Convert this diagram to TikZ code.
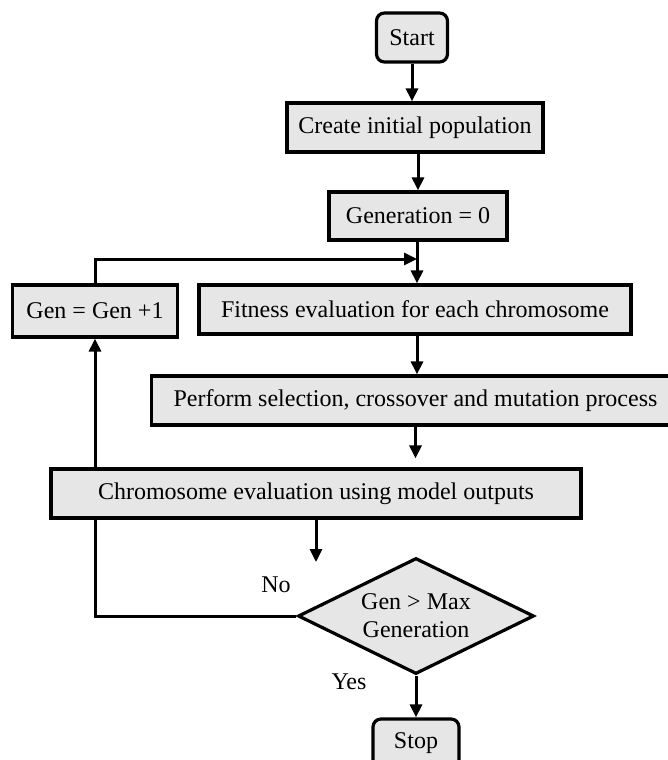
\documentclass[tikz,border=0pt]{standalone}
\usepackage{fontspec}
\setmainfont{Liberation Serif}
\usetikzlibrary{shapes.geometric,arrows.meta,backgrounds}
\definecolor{boxgray}{HTML}{E6E6E6}
\begin{document}
\begin{tikzpicture}[x=1pt,y=-1pt,
  box/.style={draw,line width=3.2pt,fill=boxgray,minimum height=49pt,inner sep=0pt,
    font=\fontsize{24}{28}\selectfont},
  termbox/.style={box,rounded corners=8pt,minimum width=71pt},
  decbox/.style={box,diamond,aspect=2,minimum width=236pt,minimum height=116pt,align=center},
  flow/.style={line width=3pt,-{Triangle[length=13pt,width=12pt]}},
  lbl/.style={font=\fontsize{24}{28}\selectfont}]
  \useasboundingbox (0,0) rectangle (667,760);

  %% main column
  \node[termbox] (start) at (412,37.5) {Start};
  \node[box,minimum width=256pt] (create) at (415,127.5) {Create initial population};
  \node[box,minimum width=178pt,minimum height=48pt] (gen0) at (418,216) {Generation = 0};
  \node[box,minimum width=432pt] (fitness) at (415,309.5) {Fitness evaluation for each chromosome};
  \node[box,minimum width=528pt] (perform) at (415.5,400.5) {Perform selection, crossover and mutation process};
  \node[box,minimum width=530pt] (chrom) at (316,493.5) {Chromosome evaluation using model outputs};
  \node[decbox] (check) at (416,616) {Gen > Max\\Generation};
  \node[termbox,minimum width=86pt] (stop) at (416,743.5) {Stop};

  %% loop box
  \node[box,minimum width=165pt,minimum height=52pt] (gen) at (95,311) {Gen = Gen +1};

  %% labels
  \node[lbl] (no) at (276,585) {No};
  \node[lbl] (yes) at (349,682) {Yes};

  \coordinate (merge) at (417,259);
  \coordinate (drop) at (316,562);

  %% arrows
  \draw[flow] (start) -- (start |- create.north);
  \draw[flow] (create.south -| gen0.south) -- (gen0);
  \draw[flow] (gen0.south -| merge) -- (fitness.north -| merge);
  \draw[flow] (gen.north) |- (merge);
  \draw[flow] (fitness.south -| 417,0) -- (perform.north -| 417,0);
  \draw[flow,shorten >=9pt] (perform.south) -- (chrom.north -| perform.south);
  \draw[flow] (chrom.south) -- (drop);
  \draw[flow] (check.south) -- (stop.north);

  %% loop back, behind the boxes
  \begin{pgfonlayer}{background}
    \draw[flow] (check.west) -| (gen.south);
  \end{pgfonlayer}
\end{tikzpicture}
\end{document}
